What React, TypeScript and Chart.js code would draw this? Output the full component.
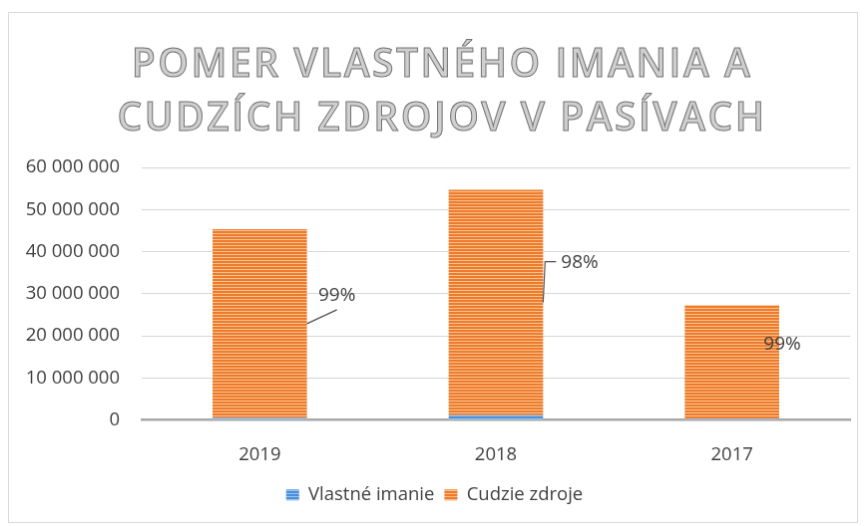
import { useEffect, useRef } from "react";
import { Chart, registerables } from "chart.js";

Chart.register(...registerables);

const categories = ["2019", "2018", "2017"];
const vlastneImanie = [450000, 1100000, 300000];
const cudzieZdroje = [44850000, 53600000, 27000000];
const percentLabels = ["99%", "98%", "99%"];
const seriesNames = ["Vlastné imanie", "Cudzie zdroje"];
const titleLines = ["POMER VLASTNÉHO IMANIA A", "CUDZÍCH ZDROJOV V PASÍVACH"];
const yMax = 60000000;
const yStep = 10000000;

const FONT = "'Open Sans', 'DejaVu Sans', sans-serif";
const TEXT = "#404040";

function stripes(dark: string, light: string) {
  const c = document.createElement("canvas");
  c.width = 4;
  c.height = 3;
  const x = c.getContext("2d")!;
  x.fillStyle = light;
  x.fillRect(0, 0, 4, 3);
  x.fillStyle = dark;
  x.fillRect(0, 0, 4, 2);
  return x.createPattern(c, "repeat")!;
}

function formatNum(v: number) {
  return String(Math.round(v)).replace(/\B(?=(\d{3})+(?!\d))/g, " ");
}

const titlePlugin = {
  id: "outlinedTitle",
  afterDraw(chart: any) {
    const ctx = chart.ctx as CanvasRenderingContext2D;
    ctx.save();
    ctx.font = `600 39px ${FONT}`;
    (ctx as any).letterSpacing = "2.5px";
    ctx.textAlign = "center";
    ctx.textBaseline = "alphabetic";
    ctx.fillStyle = "#cfcfcf";
    ctx.strokeStyle = "#737373";
    ctx.lineWidth = 1;
    const cx = chart.width / 2 + 9;
    const baselines = [64, 118];
    titleLines.forEach((t, i) => {
      ctx.fillText(t, cx, baselines[i]);
      ctx.strokeText(t, cx, baselines[i]);
    });
    ctx.restore();
  },
};

const labelPlugin = {
  id: "pctLabels",
  afterDatasetsDraw(chart: any) {
    const meta = chart.getDatasetMeta(1);
    const ctx = chart.ctx as CanvasRenderingContext2D;
    ctx.save();
    ctx.font = `19px ${FONT}`;
    ctx.fillStyle = TEXT;
    ctx.strokeStyle = "#505050";
    ctx.lineWidth = 1.2;
    ctx.textBaseline = "middle";
    meta.data.forEach((bar: any, i: number) => {
      const p = bar.getProps(["x", "y", "base", "width"], true);
      const right = p.x + p.width / 2;
      const mid = (p.y + p.base) / 2;
      if (i === 0) {
        ctx.beginPath();
        ctx.moveTo(right, mid);
        ctx.lineTo(right + 30, mid - 14);
        ctx.stroke();
        ctx.textAlign = "center";
        ctx.fillText(percentLabels[i], right + 30, mid - 28);
      } else if (i === 1) {
        ctx.beginPath();
        ctx.moveTo(right, mid);
        ctx.lineTo(right + 2, mid - 41);
        ctx.lineTo(right + 13, mid - 41);
        ctx.stroke();
        ctx.textAlign = "left";
        ctx.fillText(percentLabels[i], right + 18, mid - 40);
      } else {
        ctx.textAlign = "center";
        ctx.fillText(percentLabels[i], right + 3, mid - 18);
      }
    });
    ctx.restore();
  },
};

export default function App() {
  const ref = useRef<HTMLCanvasElement>(null);

  useEffect(() => {
    const blue = stripes("#4a8fd8", "#9cc8f0");
    const orange = stripes("#ee7a2c", "#f9c490");
    const chart = new Chart(ref.current!, {
      type: "bar",
      data: {
        labels: categories,
        datasets: [
          {
            label: seriesNames[0],
            data: vlastneImanie,
            backgroundColor: blue,
            borderWidth: 0,
            barPercentage: 0.4,
            categoryPercentage: 1,
          },
          {
            label: seriesNames[1],
            data: cudzieZdroje,
            backgroundColor: orange,
            borderWidth: 0,
            barPercentage: 0.4,
            categoryPercentage: 1,
          },
        ],
      },
      options: {
        responsive: false,
        animation: false,
        layout: { padding: { left: 10, right: 7, top: 155, bottom: 8 } },
        plugins: {
          title: { display: false },
          tooltip: { enabled: false },
          legend: {
            position: "bottom",
            labels: {
              font: { family: FONT, size: 18.5 },
              color: TEXT,
              boxWidth: 13,
              boxHeight: 11,
              padding: 10,
            },
          },
        },
        scales: {
          x: {
            stacked: true,
            grid: { display: false },
            border: { display: true, color: "#a8a8a8", width: 2.5 },
            afterFit: (scale: any) => {
              scale.height = 56;
            },
            ticks: {
              font: { family: FONT, size: 18.5 },
              color: TEXT,
              padding: 16,
            },
          },
          y: {
            stacked: true,
            min: 0,
            max: yMax,
            afterFit: (scale: any) => {
              scale.width = 123;
            },
            border: { display: false },
            grid: {
              color: "#d6d6d6",
              lineWidth: 1,
              drawTicks: false,
            },
            ticks: {
              stepSize: yStep,
              font: { family: FONT, size: 18.5 },
              color: TEXT,
              padding: 22,
              callback: (v: any) => formatNum(Number(v)),
            },
          },
        },
      },
      plugins: [titlePlugin, labelPlugin],
    });
    return () => chart.destroy();
  }, []);

  return (
    <canvas
      ref={ref}
      width={850}
      height={511}
      style={{
        position: "absolute",
        left: 8,
        top: 12,
        border: "1px solid #d9d9d9",
        display: "block",
      }}
    />
  );
}
